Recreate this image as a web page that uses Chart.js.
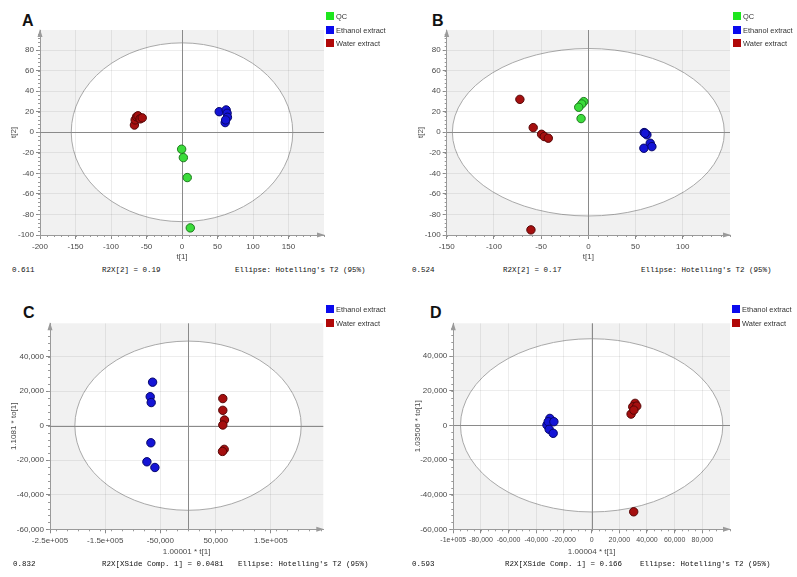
<!DOCTYPE html>
<html>
<head>
<meta charset="utf-8">
<script src="https://cdn.jsdelivr.net/npm/chart.js@4.4.1/dist/chart.umd.min.js"></script>
<style>
  body { margin: 0; background: #fff; width: 797px; height: 577px; position: relative; overflow: hidden; font-family: 'Liberation Sans', Arial, sans-serif; }
  .box { position: absolute; }
  .letter { position: absolute; font: bold 16px 'Liberation Sans', Arial, sans-serif; line-height: 1; color: #111; }
  .sw { position: absolute; width: 8px; height: 8px; }
  .lt { position: absolute; font-size: 8px; line-height: 1; color: #333; white-space: nowrap; transform: scaleX(0.93); transform-origin: 0 0; }
  .foot { position: absolute; font: 7.5px 'Liberation Mono', 'DejaVu Sans Mono', monospace; line-height: 1; color: #111; white-space: pre; }
</style>
</head>
<body>

<div class="letter" style="left:22px;top:12.5px">A</div>
<div class="letter" style="left:432px;top:12.5px">B</div>
<div class="letter" style="left:23px;top:304.5px">C</div>
<div class="letter" style="left:430px;top:304.5px">D</div>

<div class="box" style="left:0;top:0"><canvas id="chartA" width="330" height="265"></canvas></div>
<div class="box" style="left:400px;top:0"><canvas id="chartB" width="336" height="265"></canvas></div>
<div class="box" style="left:0;top:290px"><canvas id="chartC" width="330" height="275"></canvas></div>
<div class="box" style="left:400px;top:290px"><canvas id="chartD" width="336" height="275"></canvas></div>

<div id="legends"></div>

<div class="foot" style="left:12px;top:267px">0.611</div>
<div class="foot" style="left:102px;top:267px">R2X[2] = 0.19</div>
<div class="foot" style="left:235px;top:267px">Ellipse: Hotelling's T2 (95%)</div>
<div class="foot" style="left:412px;top:267px">0.524</div>
<div class="foot" style="left:503px;top:267px">R2X[2] = 0.17</div>
<div class="foot" style="left:641px;top:267px">Ellipse: Hotelling's T2 (95%)</div>
<div class="foot" style="left:13px;top:561px">0.832</div>
<div class="foot" style="left:102px;top:561px">R2X[XSide Comp. 1] = 0.0481</div>
<div class="foot" style="left:238px;top:561px">Ellipse: Hotelling's T2 (95%)</div>
<div class="foot" style="left:412px;top:561px">0.593</div>
<div class="foot" style="left:505px;top:561px">R2X[XSide Comp. 1] = 0.166</div>
<div class="foot" style="left:640px;top:561px">Ellipse: Hotelling's T2 (95%)</div>

<script>
// ---- A: PCA scores, t[1] vs t[2]
const A_QC_X = [-0.5, 1.9, 7.4, 11.7];
const A_QC_Y = [-16.5, -24.7, -44.1, -93.1];
const A_ETH_X = [52.4, 62.2, 63.5, 64, 60.8, 61.5];
const A_ETH_Y = [20, 21.7, 18.5, 14.6, 9.4, 12];
const A_WAT_X = [-67, -66, -64, -62, -59, -56];
const A_WAT_Y = [7, 12, 15, 16, 13, 14];

// ---- B: PCA scores, t[1] vs t[2]
const B_QC_X = [-4.9, -7, -10.2, -7.7];
const B_QC_Y = [29.8, 27.5, 24.3, 13.3];
const B_ETH_X = [59.1, 62, 65.5, 67.3, 58.8, 60];
const B_ETH_Y = [-0.3, -2.5, -10.7, -14, -15.6, -1];
const B_WAT_X = [-72.5, -58.4, -49.5, -46.7, -42.4, -60.8];
const B_WAT_Y = [32, 4.5, -2, -4.2, -5.8, -95];

// ---- C: OPLS-DA, t[1] vs to[1]
const C_ETH_X = [-64200, -68500, -66700, -67300, -74500, -60000];
const C_ETH_Y = [25200, 16800, 13400, -9900, -20900, -24200];
const C_WAT_X = [63000, 63000, 66000, 63000, 65500, 62400];
const C_WAT_Y = [15700, 8900, 3300, 400, -13700, -14900];

// ---- D: OPLS-DA, t[1] vs to[1]
const D_ETH_X = [-30200, -32300, -31400, -27300, -30700, -27800];
const D_ETH_Y = [4000, 200, 2100, 2100, -2300, -4600];
const D_WAT_X = [31400, 29700, 32600, 28500, 30500, 30400];
const D_WAT_Y = [12700, 10700, 11100, 6500, 8800, -49900];

// tick values and labels
const AB_Y_TICKS = [-100, -80, -60, -40, -20, 0, 20, 40, 60, 80];
const A_X_TICKS = [-200, -150, -100, -50, 0, 50, 100, 150];
const B_X_TICKS = [-150, -100, -50, 0, 50, 100];
const C_X_TICKS = [-250000, -150000, -50000, 50000, 150000];
const C_X_LABELS = ['-2.5e+005', '-1.5e+005', '-50,000', '50,000', '1.5e+005'];
const D_X_TICKS = [-100000, -80000, -60000, -40000, -20000, 0, 20000, 40000, 60000, 80000];
const D_X_LABELS = ['-1e+005', '-80,000', '-60,000', '-40,000', '-20,000', '0', '20,000', '40,000', '60,000', '80,000'];
const CD_Y_TICKS = [-60000, -40000, -20000, 0, 20000, 40000];
const CD_Y_LABELS = ['-60,000', '-40,000', '-20,000', '0', '20,000', '40,000'];

const QC = {name: 'QC', fill: '#3bdc3b', edge: '#1d7a1d', key: '#1ee61e'};
const ETH = {name: 'Ethanol extract', fill: '#1414d6', edge: '#05056a', key: '#0a0aee'};
const WAT = {name: 'Water extract', fill: '#a50f0f', edge: '#560606', key: '#b00808'};

const FONT_FAMILY = "'Liberation Sans', Arial, sans-serif";

// grey plot background, white Hotelling ellipse, zero cross, arrows, minor ticks
const frame = {
    id: 'frame',
    beforeDraw(chart, args, o) {
        const {ctx, chartArea: a, scales: {x, y}} = chart;
        ctx.save();
        ctx.fillStyle = '#f1f1f1';
        ctx.fillRect(a.left, a.top, a.right - a.left, a.bottom - a.top);
        const cx = x.getPixelForValue(0), cy = y.getPixelForValue(0);
        ctx.beginPath();
        ctx.ellipse(cx, cy, Math.abs(x.getPixelForValue(o.rx) - cx), Math.abs(y.getPixelForValue(o.ry) - cy), 0, 0, Math.PI * 2);
        ctx.fillStyle = '#fff';
        ctx.fill();
        ctx.strokeStyle = '#a9a9a9';
        ctx.lineWidth = 1;
        ctx.stroke();
        ctx.restore();
    },
    beforeDatasetsDraw(chart, args, o) {
        const {ctx, chartArea: a, scales: {x, y}} = chart;
        ctx.save();
        ctx.strokeStyle = '#8a8a8a';
        ctx.lineWidth = 1;
        const zx = Math.round(x.getPixelForValue(0)) + 0.5;
        const zy = Math.round(y.getPixelForValue(0)) + 0.5;
        ctx.beginPath();
        ctx.moveTo(zx, a.top); ctx.lineTo(zx, a.bottom);
        ctx.moveTo(a.left, zy); ctx.lineTo(a.right, zy);
        ctx.stroke();

        // minor ticks
        ctx.strokeStyle = '#999';
        ctx.beginPath();
        for (let v = Math.ceil(x.min / o.minorX) * o.minorX; v <= x.max; v += o.minorX) {
            const px = Math.round(x.getPixelForValue(v)) + 0.5;
            ctx.moveTo(px, a.bottom); ctx.lineTo(px, a.bottom + 2);
        }
        for (let v = Math.ceil(y.min / o.minorY) * o.minorY; v <= y.max; v += o.minorY) {
            const py = Math.round(y.getPixelForValue(v)) + 0.5;
            ctx.moveTo(a.left - 2, py); ctx.lineTo(a.left, py);
        }
        ctx.stroke();

        // axis arrows
        ctx.fillStyle = '#9a9a9a';
        ctx.beginPath();
        ctx.moveTo(a.right + 1, a.bottom);
        ctx.lineTo(a.right - 7, a.bottom - 2.5);
        ctx.lineTo(a.right - 7, a.bottom + 2.5);
        ctx.closePath();
        ctx.moveTo(a.left, a.top - 1);
        ctx.lineTo(a.left - 2.5, a.top + 7);
        ctx.lineTo(a.left + 2.5, a.top + 7);
        ctx.closePath();
        ctx.fill();
        ctx.restore();
    }
};

function series(g, xs, ys) {
    return {
        label: g.name,
        data: xs.map((v, i) => ({x: v, y: ys[i]})),
        backgroundColor: g.fill,
        borderColor: g.edge,
        borderWidth: 1,
        pointRadius: 4.2,
        pointHoverRadius: 4.2
    };
}

function axis(isX, min, max, ticks, labels, title, fit, titlePad, tickSize) {
    return {
        type: 'linear',
        min: min,
        max: max,
        bounds: 'data',
        afterBuildTicks: s => { s.ticks = ticks.map(v => ({value: v})); },
        afterFit: s => { if (isX) s.height = fit; else s.width = fit; },
        ticks: {
            autoSkip: false,
            maxRotation: 0,
            padding: isX ? 3 : 2,
            color: '#4a4a4a',
            font: {family: FONT_FAMILY, size: tickSize || 8},
            callback: (v, i) => labels ? labels[i] : v
        },
        grid: { color: 'rgba(0,0,0,0.07)', tickColor: '#8a8a8a', tickLength: 4 },
        border: { color: '#9a9a9a' },
        title: {
            display: true,
            text: title,
            color: '#4a4a4a',
            font: {family: FONT_FAMILY, size: 8},
            padding: isX ? {top: 0, bottom: titlePad} : {top: titlePad, bottom: 0}
        }
    };
}

function panel(id, datasets, o) {
    new Chart(document.getElementById(id), {
        type: 'scatter',
        data: { datasets: datasets },
        options: {
            responsive: false,
            animation: false,
            events: [],
            layout: { padding: { top: o.top, right: o.right, left: 0, bottom: 0 } },
            plugins: {
                legend: { display: false },
                tooltip: { enabled: false },
                frame: { rx: o.rx, ry: o.ry, minorX: o.minorX, minorY: o.minorY }
            },
            scales: {
                x: axis(true, o.x[0], o.x[1], o.xTicks, o.xLabels, o.xTitle, o.xFit, o.xPad, o.xTickSize),
                y: axis(false, o.y[0], o.y[1], o.yTicks, o.yLabels, o.yTitle, o.yFit, o.yPad)
            }
        },
        plugins: [frame]
    });
}

panel('chartA', [series(QC, A_QC_X, A_QC_Y), series(ETH, A_ETH_X, A_ETH_Y), series(WAT, A_WAT_X, A_WAT_Y)], {
    top: 30, right: 6, x: [-200, 200], y: [-100, 99.5],
    xTicks: A_X_TICKS, yTicks: AB_Y_TICKS, xTitle: 't[1]', yTitle: 't[2]',
    xFit: 30, xPad: 3.2, yFit: 40, yPad: 9.2, rx: 156, ry: 87, minorX: 10, minorY: 4
});

panel('chartB', [series(QC, B_QC_X, B_QC_Y), series(ETH, B_ETH_X, B_ETH_Y), series(WAT, B_WAT_X, B_WAT_Y)], {
    top: 30, right: 6, x: [-150, 150], y: [-100, 99.5],
    xTicks: B_X_TICKS, yTicks: AB_Y_TICKS, xTitle: 't[1]', yTitle: 't[2]',
    xFit: 30, xPad: 3.2, yFit: 46.7, yPad: 16.2, rx: 144, ry: 81.5, minorX: 10, minorY: 4
});

panel('chartC', [series(ETH, C_ETH_X, C_ETH_Y), series(WAT, C_WAT_X, C_WAT_Y)], {
    top: 33.3, right: 6.7, x: [-250000, 245000], y: [-60000, 59300],
    xTicks: C_X_TICKS, xLabels: C_X_LABELS, yTicks: CD_Y_TICKS, yLabels: CD_Y_LABELS,
    xTitle: '1.00001 * t[1]', yTitle: '1.1081 * to[1]',
    xFit: 35.7, xPad: 8.5, yFit: 50, yPad: 9.2, rx: 205000, ry: 49000, minorX: 20000, minorY: 4000
});

panel('chartD', [series(ETH, D_ETH_X, D_ETH_Y), series(WAT, D_WAT_X, D_WAT_Y)], {
    top: 33.3, right: 6, x: [-100000, 100000], y: [-60000, 58900],
    xTicks: D_X_TICKS, xLabels: D_X_LABELS, yTicks: CD_Y_TICKS, yLabels: CD_Y_LABELS,
    xTitle: '1.00004 * t[1]', yTitle: '1.03506 * to[1]', xTickSize: 7,
    xFit: 35.7, xPad: 8.5, yFit: 53.3, yPad: 13.2, rx: 94800, ry: 50000, minorX: 5000, minorY: 4000
});

// html legends
const legendSpots = [
    {left: 326, tops: [12, 26, 39], groups: [QC, ETH, WAT]},
    {left: 733, tops: [12, 26, 39], groups: [QC, ETH, WAT]},
    {left: 326, tops: [305, 319], groups: [ETH, WAT]},
    {left: 732, tops: [305, 319], groups: [ETH, WAT]}
];
const holder = document.getElementById('legends');
legendSpots.forEach(spot => {
    spot.groups.forEach((g, i) => {
        const sw = document.createElement('div');
        sw.className = 'sw';
        sw.style.left = spot.left + 'px';
        sw.style.top = spot.tops[i] + 'px';
        sw.style.background = g.key;
        holder.appendChild(sw);
        const t = document.createElement('div');
        t.className = 'lt';
        t.style.left = (spot.left + 10) + 'px';
        t.style.top = (spot.tops[i] + 0.5) + 'px';
        t.textContent = g.name;
        holder.appendChild(t);
    });
});
</script>
</body>
</html>
